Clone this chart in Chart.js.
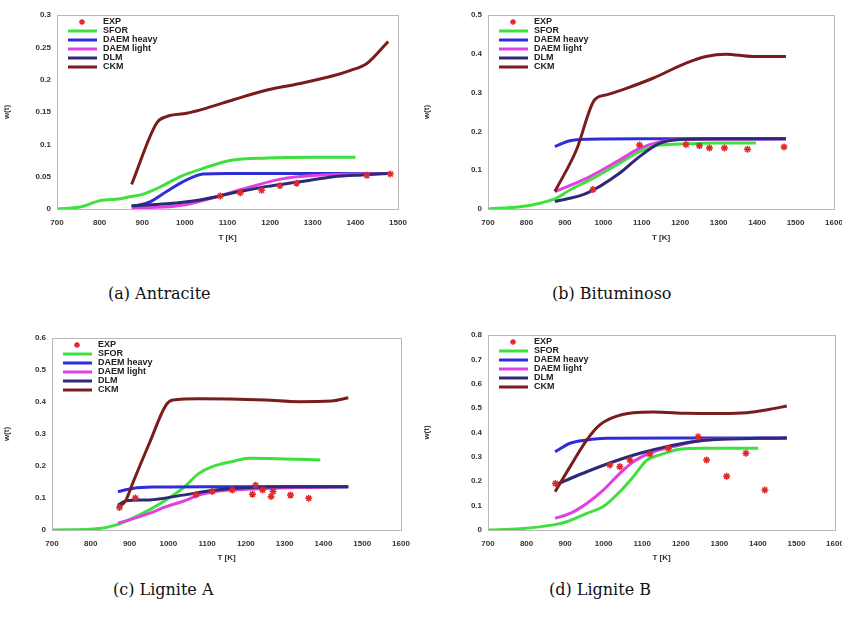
<!DOCTYPE html>
<html>
<head>
<meta charset="utf-8">
<script src="https://cdn.jsdelivr.net/npm/chart.js@4.4.0/dist/chart.umd.min.js"></script>
<style>
  html, body { margin: 0; padding: 0; background: #fff; overflow: hidden; }
  body { width: 842px; height: 635px; position: relative; }
  .panel { position: absolute; }
  .cap { position: absolute; font-family: "DejaVu Serif", serif; font-size: 16px; color: #111; white-space: nowrap; }
</style>
</head>
<body>
<div class="panel" style="left:0;top:0;width:420px;height:250px"><canvas id="ca"></canvas></div>
<div class="panel" style="left:420px;top:0;width:440px;height:250px"><canvas id="cb"></canvas></div>
<div class="panel" style="left:0;top:310px;width:420px;height:260px"><canvas id="cc"></canvas></div>
<div class="panel" style="left:420px;top:310px;width:440px;height:260px"><canvas id="cd"></canvas></div>
<div class="cap" style="left:108px;top:284px">(a) Antracite</div>
<div class="cap" style="left:552px;top:284px">(b) Bituminoso</div>
<div class="cap" style="left:113px;top:580px">(c) Lignite A</div>
<div class="cap" style="left:549px;top:580px">(d) Lignite B</div>
<script>
// series names
var names = ["EXP", "SFOR", "DAEM heavy", "DAEM light", "DLM", "CKM"];
var colors = ["#e02828", "#3ee03e", "#2e2ed8", "#e040e0", "#2a2a78", "#7a1c1c"];

// (a) Antracite  [T, w]
var expA = [[1083,0.02],[1130,0.025],[1180,0.029],[1223,0.036],[1262,0.04],[1427,0.052],[1482,0.054]];
var sforA = [[700,0],[754,0.003],[801,0.013],[848,0.016],[871,0.019],[902,0.023],[942,0.034],[989,0.05],[1035,0.061],[1106,0.075],[1193,0.079],[1300,0.08],[1400,0.08]];
var heavyA = [[875,0.004],[918,0.011],[957,0.027],[1004,0.045],[1043,0.054],[1100,0.055],[1300,0.055],[1477,0.055]];
var lightA = [[875,0.002],[950,0.003],[1004,0.007],[1075,0.019],[1153,0.034],[1231,0.047],[1310,0.052],[1400,0.054],[1477,0.055]];
var dlmA = [[875,0.005],[957,0.008],[1035,0.014],[1114,0.025],[1193,0.035],[1270,0.042],[1348,0.05],[1427,0.053],[1477,0.055]];
var ckmA = [[875,0.038],[934,0.133],[957,0.143],[1004,0.148],[1051,0.156],[1114,0.169],[1193,0.184],[1270,0.194],[1348,0.206],[1387,0.214],[1427,0.225],[1477,0.259]];

// (b) Bituminoso
var expB = [[973,0.05],[1094,0.165],[1215,0.166],[1250,0.163],[1276,0.157],[1315,0.157],[1375,0.154],[1470,0.16]];
var sforB = [[700,0],[783,0.006],[835,0.015],[878,0.028],[913,0.049],[973,0.079],[1042,0.118],[1094,0.148],[1146,0.165],[1215,0.168],[1300,0.17],[1397,0.17]];
var heavyB = [[874,0.161],[913,0.176],[956,0.18],[1100,0.181],[1300,0.181],[1475,0.181]];
var lightB = [[874,0.045],[956,0.079],[1042,0.126],[1094,0.156],[1146,0.173],[1200,0.179],[1300,0.18],[1475,0.181]];
var dlmB = [[874,0.019],[956,0.04],[1042,0.092],[1094,0.135],[1146,0.169],[1198,0.179],[1300,0.181],[1475,0.181]];
var ckmB = [[874,0.045],[930,0.152],[977,0.281],[1008,0.294],[1060,0.311],[1129,0.337],[1215,0.376],[1267,0.393],[1319,0.399],[1388,0.393],[1475,0.393]];

// (c) Lignite A
var expC = [[874,0.07],[915,0.1],[1071,0.11],[1113,0.12],[1165,0.125],[1217,0.112],[1225,0.14],[1243,0.125],[1265,0.105],[1270,0.12],[1315,0.109],[1362,0.099]];
var sforC = [[700,0],[823,0.005],[866,0.016],[908,0.037],[951,0.063],[994,0.094],[1037,0.13],[1079,0.177],[1113,0.198],[1165,0.214],[1208,0.224],[1300,0.222],[1392,0.219]];
var heavyC = [[870,0.12],[908,0.13],[960,0.134],[1100,0.135],[1300,0.135],[1464,0.135]];
var lightC = [[870,0.021],[951,0.052],[994,0.073],[1037,0.089],[1079,0.109],[1122,0.12],[1165,0.125],[1250,0.13],[1350,0.133],[1464,0.135]];
var dlmC = [[870,0.078],[891,0.091],[951,0.094],[1037,0.109],[1122,0.125],[1208,0.133],[1300,0.135],[1464,0.135]];
var ckmC = [[870,0.068],[891,0.094],[908,0.146],[951,0.271],[994,0.39],[1012,0.406],[1079,0.41],[1250,0.406],[1336,0.401],[1421,0.403],[1464,0.413]];

// (d) Lignite B
var expD = [[875,0.191],[1016,0.267],[1042,0.26],[1068,0.287],[1120,0.312],[1168,0.335],[1245,0.383],[1267,0.287],[1319,0.221],[1369,0.315],[1418,0.164]];
var sforD = [[700,0],[783,0.005],[869,0.021],[904,0.034],[956,0.068],[999,0.096],[1042,0.157],[1077,0.219],[1112,0.287],[1146,0.308],[1198,0.331],[1258,0.335],[1401,0.335]];
var heavyD = [[874,0.321],[913,0.356],[956,0.369],[1008,0.376],[1200,0.377],[1475,0.377]];
var lightD = [[874,0.048],[913,0.068],[956,0.109],[999,0.164],[1042,0.232],[1077,0.28],[1129,0.321],[1198,0.349],[1258,0.369],[1350,0.375],[1475,0.377]];
var dlmD = [[874,0.185],[904,0.205],[956,0.239],[1025,0.28],[1094,0.315],[1163,0.342],[1232,0.362],[1302,0.372],[1400,0.376],[1475,0.377]];
var ckmD = [[874,0.157],[913,0.26],[956,0.369],[990,0.431],[1025,0.462],[1077,0.481],[1129,0.484],[1215,0.479],[1302,0.478],[1371,0.481],[1431,0.495],[1475,0.509]];

function xy(arr) { return arr.map(function (p) { return { x: p[0], y: p[1] }; }); }

// frame + legend inside the plot
var framePlugin = {
  id: "frame",
  afterDatasetsDraw: function (chart) {
    var a = chart.chartArea, ctx = chart.ctx;
    ctx.save();
    ctx.strokeStyle = "#b8b8b8";
    ctx.lineWidth = 1;
    ctx.strokeRect(a.left + 0.5, a.top + 0.5, a.right - a.left, a.bottom - a.top);
    var lx = a.left + 11, ty = a.top + 7, step = 9;
    ctx.font = "bold 9px 'Liberation Sans', Arial, sans-serif";
    ctx.textBaseline = "middle";
    for (var i = 0; i < names.length; i++) {
      var y = ty + i * step;
      if (i === 0) {
        // small asterisk marker
        ctx.strokeStyle = colors[0];
        ctx.lineWidth = 1.3;
        ctx.beginPath();
        for (var k = 0; k < 4; k++) {
          var ang = k * Math.PI / 4;
          ctx.moveTo(lx + 14 - 3 * Math.cos(ang), y - 3 * Math.sin(ang));
          ctx.lineTo(lx + 14 + 3 * Math.cos(ang), y + 3 * Math.sin(ang));
        }
        ctx.stroke();
      } else {
        ctx.strokeStyle = colors[i];
        ctx.lineWidth = 3;
        ctx.beginPath();
        ctx.moveTo(lx, y);
        ctx.lineTo(lx + 29, y);
        ctx.stroke();
      }
      ctx.fillStyle = "#222";
      ctx.fillText(names[i], lx + 35, y);
    }
    ctx.restore();
  }
};

function makeChart(id, series, xmax, ymax, ystep, box) {
  var ds = [];
  ds.push({
    label: names[0], data: xy(series[0]), showLine: false,
    pointStyle: "star", pointRadius: 3.5, borderColor: colors[0], borderWidth: 1.5,
    backgroundColor: colors[0], order: 0
  });
  for (var i = 1; i < series.length; i++) {
    ds.push({
      label: names[i], data: xy(series[i]), borderColor: colors[i], borderWidth: 3,
      pointRadius: 0, cubicInterpolationMode: "monotone", fill: false, order: 7 - i
    });
  }
  var tickFont = { family: "'Liberation Sans', Arial, sans-serif", size: 8, weight: "bold" };
  return new Chart(document.getElementById(id), {
    type: "line",
    data: { datasets: ds },
    options: {
      responsive: true, maintainAspectRatio: false, animation: false,
      layout: { padding: { top: box.top, right: box.right, left: 0, bottom: 0 } },
      plugins: { legend: { display: false }, tooltip: { enabled: false } },
      scales: {
        x: {
          type: "linear", min: 700, max: xmax,
          ticks: { stepSize: 100, color: "#333", font: tickFont, padding: 9, maxRotation: 0,
            callback: function (v) { return String(v); } },
          grid: { display: false, drawTicks: false },
          border: { display: false },
          title: { display: true, text: "T [K]", color: "#333", font: tickFont, padding: { top: 2, bottom: 7 } },
          afterFit: function (s) { s.height = box.bottom; }
        },
        y: {
          min: 0, max: ymax,
          ticks: { stepSize: ystep, color: "#333", font: tickFont, padding: 6,
            callback: function (v) { return String(+v.toFixed(2)); } },
          grid: { display: false, drawTicks: false },
          border: { display: false },
          title: { display: true, text: "w(t)", color: "#333", font: tickFont, padding: 2 },
          afterFit: function (s) { s.width = box.left; }
        }
      }
    },
    plugins: [framePlugin]
  });
}

makeChart("ca", [expA, sforA, heavyA, lightA, dlmA, ckmA], 1500, 0.3, 0.05, { left: 57, top: 15, right: 22, bottom: 41 });
makeChart("cb", [expB, sforB, heavyB, lightB, dlmB, ckmB], 1600, 0.5, 0.1, { left: 68, top: 15, right: 26, bottom: 41 });
makeChart("cc", [expC, sforC, heavyC, lightC, dlmC, ckmC], 1600, 0.6, 0.1, { left: 52, top: 28, right: 19, bottom: 40 });
makeChart("cd", [expD, sforD, heavyD, lightD, dlmD, ckmD], 1600, 0.8, 0.1, { left: 68, top: 25, right: 25, bottom: 40 });
</script>
</body>
</html>
